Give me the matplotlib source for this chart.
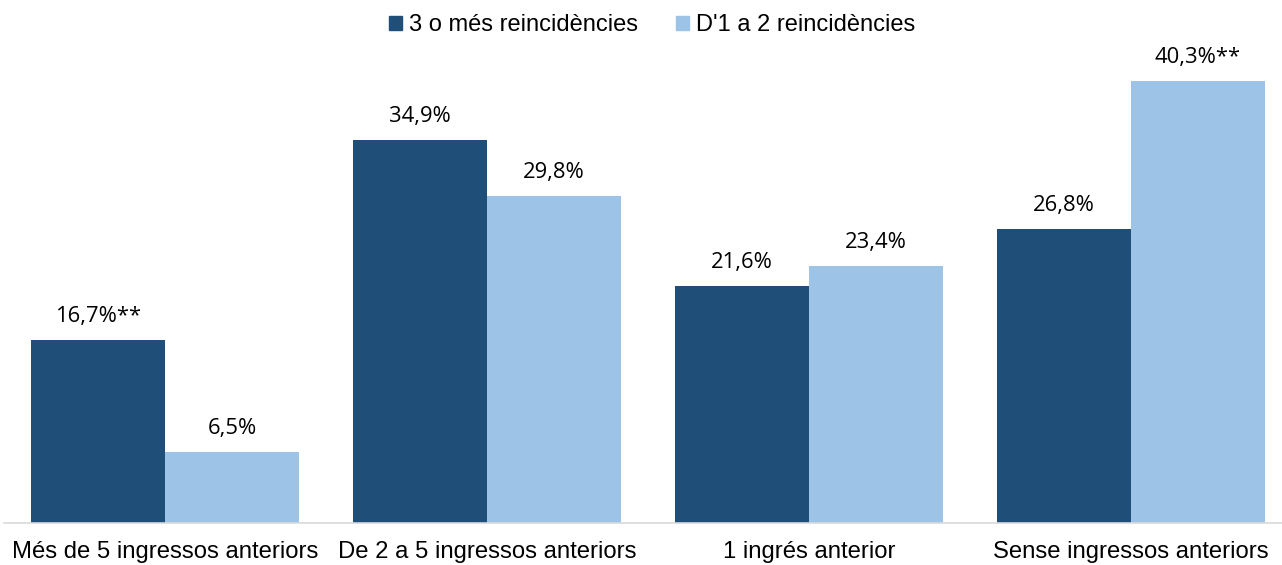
import numpy as np
import matplotlib.pyplot as plt
from matplotlib.patches import Patch

categories = ["Més de 5 ingressos anteriors", "De 2 a 5 ingressos anteriors",
              "1 ingrés anterior", "Sense ingressos anteriors"]
series_names = ["3 o més reincidències", "D'1 a 2 reincidències"]
tres_o_mes = [16.7, 34.9, 21.6, 26.8]
un_a_dos = [6.5, 29.8, 23.4, 40.3]
labels_tres = ["16,7%**", "34,9%", "21,6%", "26,8%"]
labels_un = ["6,5%", "29,8%", "23,4%", "40,3%**"]

DARK = "#1F4E79"
LIGHT = "#9DC3E6"

plt.rcParams["font.family"] = ["Liberation Sans", "DejaVu Sans"]

fig = plt.figure(figsize=(12.82, 5.65), dpi=100)
W, H = 1282, 565
ax = fig.add_axes([4 / W, (H - 523) / H, 1278 / W, 482 / H])

x = np.arange(len(categories))
bw = 0.416
b1 = ax.bar(x - bw / 2, tres_o_mes, bw, color=DARK)
b2 = ax.bar(x + bw / 2, un_a_dos, bw, color=LIGHT)

for bars, labs in ((b1, labels_tres), (b2, labels_un)):
    for r, t in zip(bars, labs):
        ax.annotate(t, (r.get_x() + r.get_width() / 2, r.get_height()),
                    xytext=(0, 9.5), textcoords="offset points",
                    ha="center", va="bottom", fontsize=15.8,
                    family=["Open Sans", "DejaVu Sans"])

ax.set_xlim(-0.5, -0.5 + 1278 / 322)
ax.set_ylim(0, 482 / 10.97)
ax.set_xticks(x)
ax.set_xticklabels(categories, fontsize=17.2)
ax.tick_params(axis="x", length=0, pad=13)
ax.set_yticks([])
for s in ("top", "right", "left"):
    ax.spines[s].set_visible(False)
ax.spines["bottom"].set_color("#D9D9D9")
ax.spines["bottom"].set_linewidth(1.2)

handles = [Patch(color=DARK), Patch(color=LIGHT)]
fig.legend(handles, series_names, loc="center", bbox_to_anchor=(0.5085, 1 - 25 / H),
           ncol=2, frameon=False, fontsize=17, handlelength=0.55, handleheight=0.55,
           handletextpad=0.3, columnspacing=1.6)

fig.savefig("out.png", dpi=100)
